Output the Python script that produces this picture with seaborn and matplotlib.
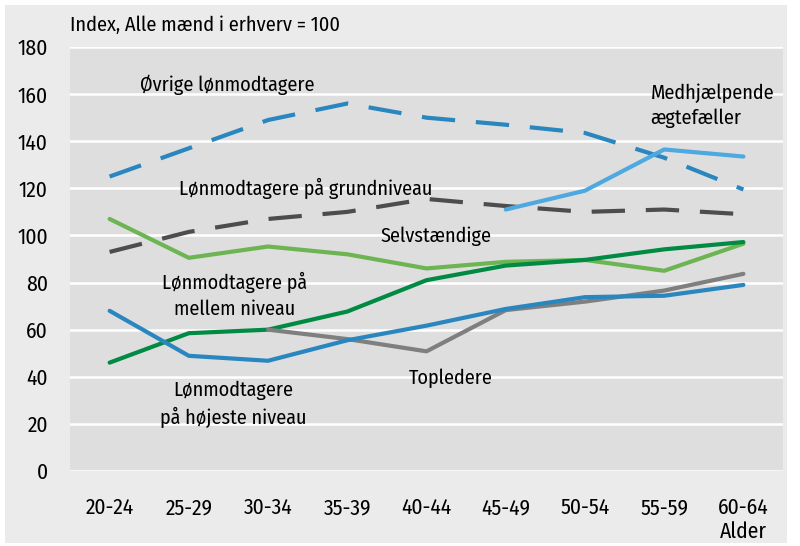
import numpy as np
import pandas as pd
import seaborn as sns
import matplotlib.pyplot as plt
from matplotlib.patches import Rectangle

# Index (alle mænd i erhverv = 100) fordelt på alder
ages = ["20-24", "25-29", "30-34", "35-39", "40-44", "45-49", "50-54", "55-59", "60-64"]

ovrige = [125, 137, 149, 156, 150, 147, 143.5, 133, 119.5]
grundniveau = [93, 101.5, 107, 110, 115.5, 112.5, 110, 111, 109]
medhjaelpende = [np.nan, np.nan, np.nan, np.nan, np.nan, 111, 119, 136.5, 133.5]
selvstaendige = [107, 90.5, 95.3, 92, 86, 88.8, 89.6, 85, 96.5]
mellem = [46, 58.5, 60, 67.7, 81, 87.2, 89.6, 94.1, 97.2]
hoejeste = [68, 48.9, 46.8, 55.5, 61.7, 68.8, 73.8, 74.4, 79]
topledere = [np.nan, np.nan, 60, 56, 50.8, 68.3, 71.9, 76.6, 83.7]

series_names = ["Øvrige lønmodtagere", "Lønmodtagere på grundniveau", "Medhjælpende ægtefæller",
                "Selvstændige", "Lønmodtagere på mellem niveau", "Topledere",
                "Lønmodtagere på højeste niveau"]
series_values = [ovrige, grundniveau, medhjaelpende, selvstaendige, mellem, topledere, hoejeste]

colors = ["#2a86bf", "#4d4d4d", "#4da9df", "#6db552", "#008a44", "#7f7f7f", "#2a86bf"]
dash_styles = [(8, 5), (8, 5), "", "", "", "", ""]

df = pd.DataFrame({name: vals for name, vals in zip(series_names, series_values)})
df["Alder"] = ages
long_df = df.melt(id_vars="Alder", var_name="Gruppe", value_name="Index")

sns.set_style("white")
plt.rcParams["font.family"] = ["Fira Sans Condensed", "DejaVu Sans"]

fig = plt.figure(figsize=(8, 5.46), dpi=100)
fig.patch.set_facecolor("white")
fig.patches.append(Rectangle((5 / 800, 3 / 546), 782 / 800, 538 / 546, transform=fig.transFigure,
                             facecolor="#ebebeb", edgecolor="none", zorder=-10))

ax = fig.add_axes([70 / 800, 1 - 471 / 546, 713 / 800, 424 / 546])
ax.set_facecolor("#dedede")

sns.lineplot(data=long_df, x="Alder", y="Index", hue="Gruppe", style="Gruppe",
             hue_order=series_names, style_order=series_names,
             palette=dict(zip(series_names, colors)),
             dashes=dict(zip(series_names, dash_styles)),
             linewidth=3, legend=False, ax=ax, zorder=3)

ax.set_xlim(-0.5, 8.5)
ax.set_ylim(0, 180)
ax.set_yticks(np.arange(0, 181, 20))
ax.grid(axis="y", color="white", linewidth=1.8)
ax.set_axisbelow(True)
for s in ax.spines.values():
    s.set_visible(False)
ax.tick_params(axis="both", length=0, labelsize=15.5, colors="black")
ax.tick_params(axis="y", pad=16)
ax.tick_params(axis="x", pad=19)
ax.set_xlabel("")
ax.set_ylabel("")

fig.text(70 / 800, 1 - 25 / 546, "Index, Alle mænd i erhverv = 100", fontsize=14.7,
         va="center", ha="left", color="black")

txt = dict(fontsize=14.5, va="center", ha="center", zorder=5, color="black")
ax.text(1.49, 164, "Øvrige lønmodtagere", **txt)
ax.text(2.48, 120, "Lønmodtagere på grundniveau", **txt)
ax.text(4.12, 99.5, "Selvstændige", **txt)
ax.text(1.58, 74.5, "Lønmodtagere på\nmellem niveau", linespacing=1.4, **txt)
ax.text(1.56, 28.5, "Lønmodtagere\npå højeste niveau", linespacing=1.4, **txt)
ax.text(4.31, 39.5, "Topledere", **txt)
ax.text(6.83, 155, "Medhjælpende\nægtefæller", fontsize=14.5, va="center", ha="left",
        linespacing=1.4, zorder=5, color="black")
ax.text(8, -26, "Alder", fontsize=15.5, va="center", ha="center", color="black")

fig.savefig("out.png", dpi=100)
